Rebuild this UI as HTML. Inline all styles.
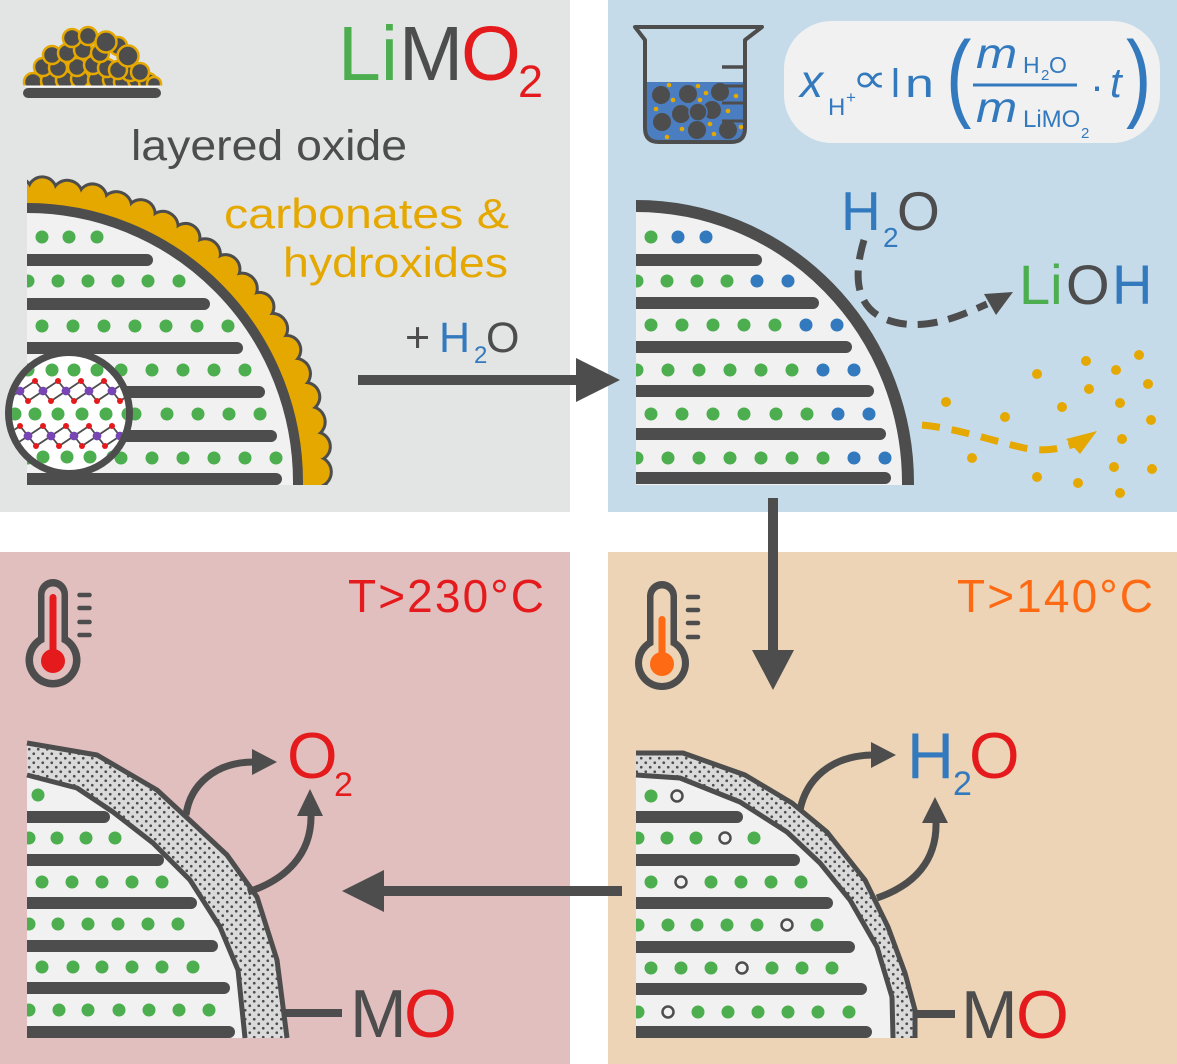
<!DOCTYPE html>
<html><head><meta charset="utf-8"><title>LiMO2 degradation scheme</title>
<style>
html,body{margin:0;padding:0;background:#fff;}
svg{display:block;}
text{font-family:"Liberation Sans","DejaVu Sans",sans-serif;}
</style></head><body>
<svg xmlns="http://www.w3.org/2000/svg" xmlns:xlink="http://www.w3.org/1999/xlink" width="1177" height="1064" viewBox="0 0 1177 1064">
<defs>
<pattern id="dp" width="9" height="9" patternUnits="userSpaceOnUse">
<rect width="9" height="9" fill="#dadada"/>
<circle cx="2.25" cy="2.25" r="1.35" fill="#4d4d4d"/>
<circle cx="6.75" cy="6.75" r="1.35" fill="#4d4d4d"/>
</pattern>
<clipPath id="cTL"><path d="M27,485 V208 A271,274 0 0 1 298,482 V485 Z"/></clipPath>
<clipPath id="cTR"><path d="M636,485 V206 A272,277 0 0 1 908,483 V485 Z"/></clipPath>
<clipPath id="cCoat"><rect x="27" y="150" width="330" height="335"/></clipPath>
<clipPath id="cMag"><circle cx="69" cy="413" r="57"/></clipPath>
<clipPath id="cPile"><rect x="0" y="0" width="200" height="85.5"/></clipPath>
<clipPath id="cBL"><polygon points="27,775 77,788 113,812 153,843 190,880 220,927 238,970 245,1038 27,1038"/></clipPath>
<clipPath id="cBR"><polygon points="636,775 680,778 740,802 787,832 820,863 850,900 877,947 892,997 893,1038 636,1038"/></clipPath>
<clipPath id="cBeaker"><path d="M645,40 H745 V128 Q745,142 731,142 H659 Q645,142 645,128 Z"/></clipPath>
<g id="bumps">
<circle cx="27" cy="193" r="14" transform="rotate(-2 27 482)"/>
<circle cx="27" cy="191" r="13" transform="rotate(3 27 482)"/>
<circle cx="27" cy="193" r="14" transform="rotate(8 27 482)"/>
<circle cx="27" cy="191" r="13" transform="rotate(13 27 482)"/>
<circle cx="27" cy="193" r="14" transform="rotate(18 27 482)"/>
<circle cx="27" cy="191" r="13" transform="rotate(23 27 482)"/>
<circle cx="27" cy="193" r="14" transform="rotate(28 27 482)"/>
<circle cx="27" cy="191" r="13" transform="rotate(33 27 482)"/>
<circle cx="27" cy="193" r="14" transform="rotate(38 27 482)"/>
<circle cx="27" cy="191" r="13" transform="rotate(43 27 482)"/>
<circle cx="27" cy="193" r="14" transform="rotate(48 27 482)"/>
<circle cx="27" cy="191" r="13" transform="rotate(53 27 482)"/>
<circle cx="27" cy="193" r="14" transform="rotate(58 27 482)"/>
<circle cx="27" cy="191" r="13" transform="rotate(63 27 482)"/>
<circle cx="27" cy="193" r="14" transform="rotate(68 27 482)"/>
<circle cx="27" cy="191" r="13" transform="rotate(73 27 482)"/>
<circle cx="27" cy="193" r="14" transform="rotate(78 27 482)"/>
<circle cx="27" cy="191" r="13" transform="rotate(83 27 482)"/>
<circle cx="27" cy="193" r="14" transform="rotate(88 27 482)"/>
<circle cx="27" cy="191" r="13" transform="rotate(93 27 482)"/>
</g>
<g id="u"><polygon points="0,0 15,-10 23,0 8,10" fill="none" stroke="#4d4d4d" stroke-width="1.8"/><circle cx="15" cy="-10" r="3" fill="#e41a1c"/><circle cx="8" cy="10" r="3" fill="#e41a1c"/><circle cx="0" cy="0" r="4.3" fill="#7846b4"/><circle cx="23" cy="0" r="4.3" fill="#7846b4"/></g>
</defs>

<!-- panels -->
<rect x="0" y="0" width="1177" height="1064" fill="#ffffff"/>
<rect x="0" y="0" width="570" height="512" fill="#e3e4e4"/>
<rect x="608" y="0" width="569" height="512" fill="#c6dbea"/>
<rect x="0" y="552" width="570" height="512" fill="#e2bfbf"/>
<rect x="608" y="552" width="569" height="512" fill="#edd4b6"/>

<!-- ============ TOP LEFT ============ -->
<g clip-path="url(#cPile)" fill="#4d4d4d" stroke="#e5a800" stroke-width="2.5">
<circle cx="33" cy="82" r="9"/><circle cx="50" cy="81" r="9"/><circle cx="65" cy="80" r="9"/><circle cx="80" cy="79" r="9"/><circle cx="97" cy="80" r="9"/><circle cx="112" cy="80" r="9"/><circle cx="123" cy="82" r="9"/><circle cx="137" cy="80" r="9"/><circle cx="148" cy="82" r="9"/><circle cx="154" cy="84" r="7"/>
<circle cx="43" cy="67" r="9"/><circle cx="58" cy="68" r="9"/><circle cx="77" cy="67" r="9"/><circle cx="93" cy="65" r="9"/><circle cx="107" cy="68" r="9"/><circle cx="130" cy="72" r="9"/><circle cx="118" cy="70" r="9"/><circle cx="140" cy="72" r="9"/>
<circle cx="52" cy="55" r="9"/><circle cx="67" cy="53" r="9"/><circle cx="83" cy="50" r="9"/><circle cx="100" cy="53" r="9"/>
<circle cx="72" cy="38" r="9"/><circle cx="88" cy="36" r="9"/><circle cx="118" cy="46" r="9"/>
<circle cx="106" cy="42" r="10.5"/><circle cx="128" cy="56" r="10.5"/>
</g>
<line x1="25" y1="86.3" x2="159" y2="86.3" stroke="#f6f6f6" stroke-width="1.5"/>
<rect x="23" y="88" width="138" height="10" rx="5" fill="#4d4d4d"/>

<text x="338" y="80" font-size="77" fill="#4dae4f">Li</text>
<text x="399" y="80" font-size="77" fill="#4d4d4d">M</text>
<text x="461" y="80" font-size="77" fill="#e41a1c">O</text>
<text x="518" y="97" font-size="45" fill="#e41a1c">2</text>

<text x="131" y="160" font-size="43" fill="#4d4d4d" textLength="276" lengthAdjust="spacingAndGlyphs">layered oxide</text>
<text x="224" y="228" font-size="42" fill="#e5a800" textLength="285" lengthAdjust="spacingAndGlyphs">carbonates &amp;</text>
<text x="283" y="277" font-size="42" fill="#e5a800" textLength="225" lengthAdjust="spacingAndGlyphs">hydroxides</text>

<!-- coating -->
<g clip-path="url(#cCoat)">
<use xlink:href="#bumps" href="#bumps" fill="#4d4d4d" stroke="#4d4d4d" stroke-width="6"/>
<circle cx="27" cy="482" r="282" fill="none" stroke="#e5a800" stroke-width="14"/>
<use xlink:href="#bumps" href="#bumps" fill="#e5a800"/>
</g>
<path d="M27,485 V208 A271,274 0 0 1 298,482 V485 Z" fill="#f1f1f1"/>
<g clip-path="url(#cTL)">
<g fill="#4d4d4d">
<rect x="15" y="254" width="138" height="12" rx="6"/>
<rect x="15" y="298" width="195" height="12" rx="6"/>
<rect x="15" y="342" width="228" height="12" rx="6"/>
<rect x="15" y="386" width="250" height="12" rx="6"/>
<rect x="15" y="430" width="262" height="12" rx="6"/>
<rect x="15" y="473" width="267" height="12" rx="6"/>
</g>
<g fill="#4dae4f">
<circle cx="42" cy="237" r="6.5"/><circle cx="69" cy="237" r="6.5"/><circle cx="97" cy="237" r="6.5"/>
<circle cx="28" cy="281" r="6.5"/><circle cx="58" cy="281" r="6.5"/><circle cx="88" cy="281" r="6.5"/><circle cx="118" cy="281" r="6.5"/><circle cx="148" cy="281" r="6.5"/><circle cx="179" cy="281" r="6.5"/>
<circle cx="42" cy="326" r="6.5"/><circle cx="73" cy="326" r="6.5"/><circle cx="104" cy="326" r="6.5"/><circle cx="135" cy="326" r="6.5"/><circle cx="166" cy="326" r="6.5"/><circle cx="197" cy="326" r="6.5"/><circle cx="228" cy="326" r="6.5"/>
<circle cx="28" cy="370" r="6.5"/><circle cx="59" cy="370" r="6.5"/><circle cx="90" cy="370" r="6.5"/><circle cx="121" cy="370" r="6.5"/><circle cx="152" cy="370" r="6.5"/><circle cx="183" cy="370" r="6.5"/><circle cx="214" cy="370" r="6.5"/><circle cx="245" cy="370" r="6.5"/>
<circle cx="42" cy="414" r="6.5"/><circle cx="73" cy="414" r="6.5"/><circle cx="104" cy="414" r="6.5"/><circle cx="135" cy="414" r="6.5"/><circle cx="167" cy="414" r="6.5"/><circle cx="198" cy="414" r="6.5"/><circle cx="229" cy="414" r="6.5"/><circle cx="260" cy="414" r="6.5"/>
<circle cx="28" cy="458" r="6.5"/><circle cx="59" cy="458" r="6.5"/><circle cx="90" cy="458" r="6.5"/><circle cx="121" cy="458" r="6.5"/><circle cx="152" cy="458" r="6.5"/><circle cx="183" cy="458" r="6.5"/><circle cx="214" cy="458" r="6.5"/><circle cx="245" cy="458" r="6.5"/><circle cx="276" cy="458" r="6.5"/>
</g>
</g>
<path d="M27,208 A271,274 0 0 1 298,482 L298,485" fill="none" stroke="#4d4d4d" stroke-width="10"/>

<!-- magnifier -->
<circle cx="69" cy="413" r="60.5" fill="#ffffff"/>
<g clip-path="url(#cMag)">
<g fill="#4dae4f">
<circle cx="28" cy="370" r="6.5"/><circle cx="52" cy="370" r="6.5"/><circle cx="74" cy="370" r="6.5"/><circle cx="97" cy="370" r="6.5"/><circle cx="120" cy="370" r="6.5"/>
<circle cx="15" cy="414" r="6.5"/><circle cx="35" cy="414" r="6.5"/><circle cx="58" cy="414" r="6.5"/><circle cx="82" cy="414" r="6.5"/><circle cx="106" cy="414" r="6.5"/><circle cx="128" cy="414" r="6.5"/>
<circle cx="20" cy="457" r="6.5"/><circle cx="43" cy="457" r="6.5"/><circle cx="67" cy="457" r="6.5"/><circle cx="90" cy="457" r="6.5"/><circle cx="113" cy="457" r="6.5"/>
</g>
<use xlink:href="#u" href="#u" x="-3" y="391"/><use xlink:href="#u" href="#u" x="20" y="391"/><use xlink:href="#u" href="#u" x="43" y="391"/><use xlink:href="#u" href="#u" x="66" y="391"/><use xlink:href="#u" href="#u" x="89" y="391"/><use xlink:href="#u" href="#u" x="112" y="391"/>
<use xlink:href="#u" href="#u" x="5" y="436"/><use xlink:href="#u" href="#u" x="28" y="436"/><use xlink:href="#u" href="#u" x="51" y="436"/><use xlink:href="#u" href="#u" x="74" y="436"/><use xlink:href="#u" href="#u" x="97" y="436"/><use xlink:href="#u" href="#u" x="120" y="436"/>
</g>
<circle cx="69" cy="413" r="60.5" fill="none" stroke="#4d4d4d" stroke-width="7"/>

<text x="405" y="352" font-size="43" fill="#4d4d4d">+</text>
<text x="439" y="352" font-size="43" fill="#3279be">H</text>
<text x="474" y="363" font-size="24" fill="#3279be">2</text>
<text x="486" y="352" font-size="43" fill="#4d4d4d">O</text>

<line x1="358" y1="380" x2="580" y2="380" stroke="#4d4d4d" stroke-width="10"/>
<polygon points="576,358 620,380 576,402" fill="#4d4d4d"/>

<!-- ============ TOP RIGHT ============ -->
<path d="M645,82 H745 V128 Q745,142 731,142 H659 Q645,142 645,128 Z" fill="#4b7dc1"/>
<g clip-path="url(#cBeaker)">
<g stroke="#4d4d4d" stroke-width="3">
<line x1="722" y1="86" x2="745" y2="86"/><line x1="722" y1="103" x2="745" y2="103"/><line x1="722" y1="121" x2="745" y2="121"/>
</g>
<g fill="#4d4d4d">
<circle cx="661" cy="95" r="9"/><circle cx="688" cy="94" r="9"/><circle cx="720" cy="92" r="9"/>
<circle cx="681" cy="114" r="9"/><circle cx="712" cy="110" r="9"/><circle cx="698" cy="112" r="9" stroke="#4b7dc1" stroke-width="1.5"/>
<circle cx="662" cy="122" r="9"/><circle cx="697" cy="130" r="9"/><circle cx="728" cy="130" r="9"/>
</g>
<g fill="#e5a800">
<circle cx="669" cy="85" r="2.3"/><circle cx="698" cy="86" r="2.3"/><circle cx="706" cy="93" r="2.3"/><circle cx="673" cy="100" r="2.3"/><circle cx="700" cy="100" r="2.3"/><circle cx="736" cy="96" r="2.3"/><circle cx="656" cy="109" r="2.3"/><circle cx="728" cy="111" r="2.3"/><circle cx="710" cy="124" r="2.3"/><circle cx="682" cy="129" r="2.3"/><circle cx="741" cy="127" r="2.3"/><circle cx="714" cy="134" r="2.3"/><circle cx="667" cy="137" r="2.3"/>
</g>
</g>
<line x1="722" y1="67" x2="745" y2="67" stroke="#4d4d4d" stroke-width="3.5"/>
<path d="M645,40 L635,27 H762 L745,40 V128 Q745,142 731,142 H659 Q645,142 645,128 Z" fill="none" stroke="#4d4d4d" stroke-width="4" stroke-linejoin="round"/>

<!-- formula -->
<rect x="784" y="21" width="376" height="122" rx="48" fill="#f1f1f1"/>
<g fill="#3279be">
<text x="800" y="97" font-size="46" font-style="italic">x</text>
<text x="828" y="115" font-size="24">H</text>
<text x="846" y="103" font-size="17">+</text>
<text x="852" y="92" font-size="40" textLength="35" lengthAdjust="spacingAndGlyphs">∝</text>
<text x="891" y="97" font-size="40">l</text>
<text transform="translate(905,97) scale(1.3,1)" font-size="40">n</text>
<text transform="translate(946,109) scale(1.25,1.6)" font-size="61">(</text>
<text transform="translate(976,68) scale(1.15,1)" font-size="43" font-style="italic">m</text>
<text x="1023" y="73" font-size="23">H</text>
<text x="1041" y="80" font-size="15">2</text>
<text x="1049" y="73" font-size="23">O</text>
<rect x="973" y="83.5" width="104" height="3"/>
<text transform="translate(976,122) scale(1.15,1)" font-size="43" font-style="italic">m</text>
<text x="1023" y="127" font-size="24">LiMO</text>
<text x="1081" y="138" font-size="15">2</text>
<text x="1090" y="100" font-size="42">·</text>
<text x="1110" y="97" font-size="42" font-style="italic">t</text>
<text transform="translate(1126,109) scale(1.25,1.6)" font-size="61">)</text>
</g>

<path d="M636,485 V206 A272,277 0 0 1 908,483 V485 Z" fill="#f1f1f1"/>
<g clip-path="url(#cTR)">
<g fill="#4d4d4d">
<rect x="624" y="254" width="138" height="12" rx="6"/>
<rect x="624" y="297" width="195" height="12" rx="6"/>
<rect x="624" y="341" width="228" height="12" rx="6"/>
<rect x="624" y="385" width="250" height="12" rx="6"/>
<rect x="624" y="428" width="262" height="12" rx="6"/>
<rect x="624" y="472" width="267" height="12" rx="6"/>
</g>
<g fill="#4dae4f">
<circle cx="651" cy="237" r="6.5"/>
<circle cx="637" cy="281" r="6.5"/><circle cx="667" cy="281" r="6.5"/><circle cx="697" cy="281" r="6.5"/><circle cx="727" cy="281" r="6.5"/>
<circle cx="651" cy="325" r="6.5"/><circle cx="682" cy="325" r="6.5"/><circle cx="713" cy="325" r="6.5"/><circle cx="744" cy="325" r="6.5"/><circle cx="775" cy="325" r="6.5"/>
<circle cx="637" cy="370" r="6.5"/><circle cx="668" cy="370" r="6.5"/><circle cx="699" cy="370" r="6.5"/><circle cx="730" cy="370" r="6.5"/><circle cx="761" cy="370" r="6.5"/><circle cx="792" cy="370" r="6.5"/>
<circle cx="651" cy="414" r="6.5"/><circle cx="682" cy="414" r="6.5"/><circle cx="713" cy="414" r="6.5"/><circle cx="744" cy="414" r="6.5"/><circle cx="776" cy="414" r="6.5"/><circle cx="807" cy="414" r="6.5"/>
<circle cx="637" cy="458" r="6.5"/><circle cx="668" cy="458" r="6.5"/><circle cx="699" cy="458" r="6.5"/><circle cx="730" cy="458" r="6.5"/><circle cx="761" cy="458" r="6.5"/><circle cx="792" cy="458" r="6.5"/><circle cx="823" cy="458" r="6.5"/>
</g>
<g fill="#3279be">
<circle cx="678" cy="237" r="6.5"/><circle cx="706" cy="237" r="6.5"/>
<circle cx="757" cy="281" r="6.5"/><circle cx="788" cy="281" r="6.5"/>
<circle cx="806" cy="325" r="6.5"/><circle cx="837" cy="325" r="6.5"/>
<circle cx="823" cy="370" r="6.5"/><circle cx="854" cy="370" r="6.5"/>
<circle cx="838" cy="414" r="6.5"/><circle cx="869" cy="414" r="6.5"/>
<circle cx="854" cy="458" r="6.5"/><circle cx="885" cy="458" r="6.5"/>
</g>
</g>
<path d="M636,206 A272,277 0 0 1 908,483 L908,485" fill="none" stroke="#4d4d4d" stroke-width="12"/>

<text x="841" y="230" font-size="55" fill="#3279be">H</text>
<text x="883" y="247" font-size="28" fill="#3279be">2</text>
<text x="897" y="230" font-size="55" fill="#4d4d4d">O</text>
<text x="1019" y="304" font-size="56" fill="#4dae4f">Li</text>
<text x="1066" y="304" font-size="56" fill="#4d4d4d">O</text>
<text x="1112" y="304" font-size="56" fill="#3279be">H</text>

<path d="M864,240 C852,280 855,318 905,324 C935,327 960,316 987,304" fill="none" stroke="#4d4d4d" stroke-width="7" stroke-dasharray="20 11"/>
<polygon points="1013,292 984,294 996,315" fill="#4d4d4d"/>
<path d="M922,425 C955,428 990,440 1020,447 C1040,452 1058,450 1074,444" fill="none" stroke="#e5a800" stroke-width="7" stroke-dasharray="18 12"/>
<polygon points="1097,431 1066,439 1080,454" fill="#e5a800"/>
<g fill="#e5a800">
<circle cx="1139" cy="355" r="5"/><circle cx="1086" cy="361" r="5"/><circle cx="1116" cy="370" r="5"/><circle cx="1037" cy="374" r="5"/><circle cx="1148" cy="384" r="5"/><circle cx="1089" cy="389" r="5"/><circle cx="946" cy="402" r="5"/><circle cx="1120" cy="403" r="5"/><circle cx="1062" cy="407" r="5"/><circle cx="1005" cy="417" r="5"/><circle cx="1151" cy="420" r="5"/><circle cx="1122" cy="439" r="5"/><circle cx="972" cy="458" r="5"/><circle cx="1114" cy="467" r="5"/><circle cx="1152" cy="469" r="5"/><circle cx="1037" cy="477" r="5"/><circle cx="1078" cy="483" r="5"/><circle cx="1120" cy="493" r="5"/>
</g>

<line x1="773" y1="498" x2="773" y2="654" stroke="#4d4d4d" stroke-width="10"/>
<polygon points="752,650 794,650 773,690" fill="#4d4d4d"/>

<line x1="622" y1="891" x2="380" y2="891" stroke="#4d4d4d" stroke-width="10"/>
<polygon points="384,870 342,891 384,912" fill="#4d4d4d"/>

<!-- ============ BOTTOM LEFT ============ -->
<rect x="38" y="579" width="30" height="90" rx="15" fill="#4d4d4d"/>
<circle cx="53" cy="660" r="27.5" fill="#4d4d4d"/>
<rect x="44.5" y="586.5" width="17" height="80" rx="8.5" fill="#e2bfbf"/>
<circle cx="53" cy="660" r="20" fill="#e2bfbf"/>
<rect x="49.5" y="594" width="7" height="62" rx="3.5" fill="#e41a1c"/>
<circle cx="53" cy="661" r="12" fill="#e41a1c"/>
<g stroke="#4d4d4d" stroke-width="4.5" stroke-linecap="round">
<line x1="79.5" y1="595" x2="89.5" y2="595"/><line x1="79.5" y1="608" x2="89.5" y2="608"/><line x1="79.5" y1="622" x2="89.5" y2="622"/><line x1="79.5" y1="635" x2="89.5" y2="635"/>
</g>
<text x="348" y="612" font-size="46" fill="#e41a1c" textLength="196" lengthAdjust="spacing">T&gt;230°C</text>

<polygon points="27,743 97,755 157,790 197,827 227,855 257,897 277,960 287,1038 27,1038" fill="url(#dp)"/>
<polygon points="27,775 77,788 113,812 153,843 190,880 220,927 238,970 245,1038 27,1038" fill="#f1f1f1"/>
<g clip-path="url(#cBL)">
<g fill="#4d4d4d">
<rect x="15" y="811" width="95" height="12" rx="6"/>
<rect x="15" y="854" width="149" height="12" rx="6"/>
<rect x="15" y="897" width="182" height="12" rx="6"/>
<rect x="15" y="940" width="203" height="12" rx="6"/>
<rect x="15" y="982" width="215" height="12" rx="6"/>
<rect x="15" y="1026" width="220" height="12" rx="6"/>
</g>
<g fill="#4dae4f">
<circle cx="38" cy="795" r="6.5"/>
<circle cx="29" cy="838" r="6.5"/><circle cx="57" cy="838" r="6.5"/><circle cx="86" cy="838" r="6.5"/><circle cx="115" cy="838" r="6.5"/>
<circle cx="42" cy="882" r="6.5"/><circle cx="72" cy="882" r="6.5"/><circle cx="102" cy="882" r="6.5"/><circle cx="132" cy="882" r="6.5"/><circle cx="162" cy="882" r="6.5"/>
<circle cx="29" cy="924" r="6.5"/><circle cx="58" cy="924" r="6.5"/><circle cx="88" cy="924" r="6.5"/><circle cx="118" cy="924" r="6.5"/><circle cx="148" cy="924" r="6.5"/><circle cx="178" cy="924" r="6.5"/>
<circle cx="42" cy="967" r="6.5"/><circle cx="73" cy="967" r="6.5"/><circle cx="102" cy="967" r="6.5"/><circle cx="132" cy="967" r="6.5"/><circle cx="162" cy="967" r="6.5"/><circle cx="193" cy="967" r="6.5"/>
<circle cx="29" cy="1010" r="6.5"/><circle cx="59" cy="1010" r="6.5"/><circle cx="88" cy="1010" r="6.5"/><circle cx="119" cy="1010" r="6.5"/><circle cx="149" cy="1010" r="6.5"/><circle cx="179" cy="1010" r="6.5"/><circle cx="209" cy="1010" r="6.5"/>
</g>
</g>
<polyline points="27,775 77,788 113,812 153,843 190,880 220,927 238,970 245,1038" fill="none" stroke="#4d4d4d" stroke-width="5" stroke-linejoin="round"/>
<polyline points="27,743 97,755 157,790 197,827 227,855 257,897 277,960 287,1038" fill="none" stroke="#4d4d4d" stroke-width="5" stroke-linejoin="round"/>

<g fill="none" stroke="#4d4d4d" stroke-width="7">
<path d="M186,815 C190,785 215,762 254,762"/>
<path d="M248,892 C285,880 312,855 311,814"/>
</g>
<polygon points="277,762 252,749 252,775" fill="#4d4d4d"/>
<polygon points="310,789 297,816 323,816" fill="#4d4d4d"/>
<text x="287" y="778" font-size="65" fill="#e41a1c">O</text>
<text x="334" y="796" font-size="34" fill="#e41a1c">2</text>

<line x1="285" y1="1013" x2="342" y2="1013" stroke="#4d4d4d" stroke-width="8"/>
<text x="350" y="1037" font-size="68" fill="#4d4d4d">M</text>
<text x="404" y="1037" font-size="68" fill="#e41a1c">O</text>

<!-- ============ BOTTOM RIGHT ============ -->
<rect x="647" y="581" width="30" height="90" rx="15" fill="#4d4d4d"/>
<circle cx="662" cy="663" r="27" fill="#4d4d4d"/>
<rect x="653.5" y="588.5" width="17" height="80" rx="8.5" fill="#edd4b6"/>
<circle cx="662" cy="663" r="20" fill="#edd4b6"/>
<rect x="658.5" y="616" width="7" height="46" rx="3.5" fill="#fe6a13"/>
<circle cx="662" cy="664" r="12" fill="#fe6a13"/>
<g stroke="#4d4d4d" stroke-width="4.5" stroke-linecap="round">
<line x1="688" y1="597" x2="698" y2="597"/><line x1="688" y1="610" x2="698" y2="610"/><line x1="688" y1="623" x2="698" y2="623"/><line x1="688" y1="637" x2="698" y2="637"/>
</g>
<text x="957" y="612" font-size="46" fill="#fe6a13" textLength="196" lengthAdjust="spacing">T&gt;140°C</text>

<polygon points="636,753 683,753 745,775 792,803 827,832 865,880 888,927 905,973 915,1010 915,1038 636,1038" fill="url(#dp)"/>
<polygon points="636,775 680,778 740,802 787,832 820,863 850,900 877,947 892,997 893,1038 636,1038" fill="#f1f1f1"/>
<g clip-path="url(#cBR)">
<g fill="#4d4d4d">
<rect x="624" y="811" width="119" height="12" rx="6"/>
<rect x="624" y="854" width="176" height="12" rx="6"/>
<rect x="624" y="897" width="209" height="12" rx="6"/>
<rect x="624" y="941" width="231" height="12" rx="6"/>
<rect x="624" y="983" width="243" height="12" rx="6"/>
<rect x="624" y="1026" width="248" height="12" rx="6"/>
</g>
<g fill="#4dae4f">
<circle cx="651" cy="796" r="6.5"/>
<circle cx="638" cy="838" r="6.5"/><circle cx="667" cy="838" r="6.5"/><circle cx="696" cy="838" r="6.5"/><circle cx="754" cy="838" r="6.5"/>
<circle cx="651" cy="882" r="6.5"/><circle cx="711" cy="882" r="6.5"/><circle cx="741" cy="882" r="6.5"/><circle cx="771" cy="882" r="6.5"/><circle cx="801" cy="882" r="6.5"/>
<circle cx="638" cy="925" r="6.5"/><circle cx="668" cy="925" r="6.5"/><circle cx="697" cy="925" r="6.5"/><circle cx="727" cy="925" r="6.5"/><circle cx="757" cy="925" r="6.5"/><circle cx="817" cy="925" r="6.5"/>
<circle cx="651" cy="968" r="6.5"/><circle cx="681" cy="968" r="6.5"/><circle cx="711" cy="968" r="6.5"/><circle cx="772" cy="968" r="6.5"/><circle cx="802" cy="968" r="6.5"/><circle cx="832" cy="968" r="6.5"/>
<circle cx="638" cy="1012" r="6.5"/><circle cx="698" cy="1012" r="6.5"/><circle cx="728" cy="1012" r="6.5"/><circle cx="758" cy="1012" r="6.5"/><circle cx="788" cy="1012" r="6.5"/><circle cx="818" cy="1012" r="6.5"/><circle cx="849" cy="1012" r="6.5"/>
</g>
<g fill="#f1f1f1" stroke="#4d4d4d" stroke-width="2.5">
<circle cx="677" cy="796" r="5.5"/><circle cx="725" cy="838" r="5.5"/><circle cx="681" cy="882" r="5.5"/><circle cx="787" cy="925" r="5.5"/><circle cx="742" cy="968" r="5.5"/><circle cx="668" cy="1012" r="5.5"/>
</g>
</g>
<polyline points="636,775 680,778 740,802 787,832 820,863 850,900 877,947 892,997 893,1038" fill="none" stroke="#4d4d4d" stroke-width="5" stroke-linejoin="round"/>
<polyline points="636,753 683,753 745,775 792,803 827,832 865,880 888,927 905,973 915,1010 915,1038" fill="none" stroke="#4d4d4d" stroke-width="5" stroke-linejoin="round"/>

<g fill="none" stroke="#4d4d4d" stroke-width="7">
<path d="M800,810 C806,780 830,756 872,755"/>
<path d="M877,898 C915,885 937,860 936,822"/>
</g>
<polygon points="896,755 871,742 871,768" fill="#4d4d4d"/>
<polygon points="935,797 922,823 948,823" fill="#4d4d4d"/>
<text x="907" y="778" font-size="65" fill="#3279be">H</text>
<text x="953" y="795" font-size="34" fill="#3279be">2</text>
<text x="969" y="778" font-size="65" fill="#e41a1c">O</text>

<line x1="913" y1="1014" x2="955" y2="1014" stroke="#4d4d4d" stroke-width="8"/>
<text x="961" y="1038" font-size="68" fill="#4d4d4d">M</text>
<text x="1016" y="1038" font-size="68" fill="#e41a1c">O</text>
</svg>
</body></html>
